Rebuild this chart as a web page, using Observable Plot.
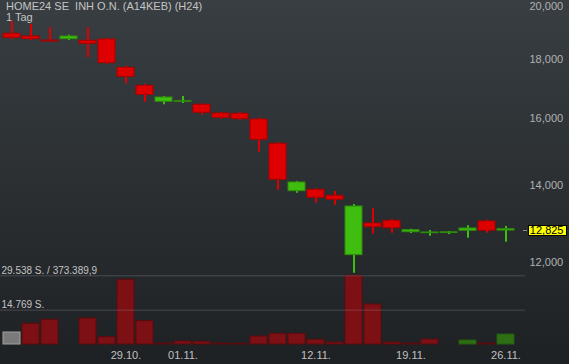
<!DOCTYPE html>
<html><head><meta charset="utf-8">
<script src="https://cdn.jsdelivr.net/npm/d3@7"></script>
<script src="https://cdn.jsdelivr.net/npm/@observablehq/plot@0.6"></script>
<style>
html,body{margin:0;padding:0;background:#1f2225;}
#chart{position:relative;width:569px;height:364px;overflow:hidden;background:linear-gradient(#383e42,#1e2124);font-family:"Liberation Sans",Arial,sans-serif;}
#chart svg{position:absolute;left:0;top:0;}
.t{position:absolute;left:6px;color:#c4c4c4;font-size:11px;line-height:11px;white-space:pre;font-family:"Liberation Sans",Arial,sans-serif;}
</style></head><body>
<div id="chart"></div>
<script>
const dates = ["19.10.","22.10.","23.10.","24.10.","25.10.","26.10.","29.10.","30.10.","31.10.","01.11.","02.11.","05.11.","06.11.","07.11.","08.11.","09.11.","12.11.","13.11.","14.11.","15.11.","16.11.","19.11.","20.11.","21.11.","22.11.","23.11.","26.11."];
const opens  = [18940,18838,18688,18737,18677,18726,17698,17073,16537,16537,16438,16155,16146,15963,15208,13835,13874,13709,12177,12972,13042,12748,12723,12728,12784,13024,12790];
const highs  = [19410,19295,19168,18887,19168,18763,17754,17128,16713,16713,16471,16188,16188,16004,15247,14106,13902,13827,13473,13358,13076,12825,12792,12766,12912,13057,12894];
const lows   = [18726,18688,18625,18688,18054,17825,17142,16524,16438,16481,16101,15973,15941,14955,13863,13780,13508,13454,11747,12698,12723,12715,12647,12690,12597,12723,12497];
const closes = [18789,18737,18651,18838,18566,17861,17383,16769,16679,16557,16178,16017,15973,15329,14154,14078,13654,13600,13419,12876,12851,12799,12741,12745,12843,12784,12825];
const volumes = [5160,8900,10620,0,11180,3140,27820,10020,430,1290,1160,430,300,3440,4600,4600,2020,860,29538,17200,860,430,2150,0,1720,430,4300];
const xTicks = ["29.10.","01.11.","12.11.","19.11.","26.11."];
const yTicks = [12000,14000,16000,18000,20000];
const volMax = 29538, volMid = 14769;
const volLabels = ["29.538 S. / 373.389,9","14.769 S."];
const lastPrice = 12825;
const titleLines = ["HOME24 SE  INH O.N. (A14KEB) (H24)","1 Tag"];

const RED="#de0000", RED_S="#a80000", GREEN="#3fbe10", GREEN_S="#2e8c0b";
const VRED="#7d1015", VRED_S="#5c0b0f", VGREEN="#2f6f14", VGREEN_S="#245a10", VGREY="#7a7a7a", VGREY_S="#a0a0a0";

const data = dates.map((d,i)=>({date:d, open:opens[i], high:highs[i], low:lows[i], close:closes[i], volume:volumes[i],
  up: closes[i]>=opens[i], dir: i===0 ? "flat" : (closes[i]>closes[i-1] ? "up" : "down")}));

const xScale = {type:"band", domain:dates, range:[-1.9,519.5], padding:0.1};
const font = "'Liberation Sans',Arial,sans-serif";
const fmt = d3.format(",");
const ns = "http://www.w3.org/2000/svg";

const price = Plot.plot({
  width:569, height:364, marginLeft:0, marginRight:42, marginTop:0, marginBottom:20,
  style:{background:"transparent", fontFamily:font, fontSize:"11px", color:"#b2b2b2", overflow:"visible"},
  x:{...xScale, axis:null},
  y:{type:"log", domain:[12000,20000], range:[262,6], axis:null},
  color:{type:"identity"},
  marks:[
    Plot.ruleX(data,{x:"date", y1:"low", y2:"high", stroke:d=>d.up?GREEN:RED, strokeWidth:2}),
    Plot.barY(data,{x:"date", y1:"open", y2:"close", fill:d=>d.up?GREEN:RED, stroke:d=>d.up?GREEN_S:RED_S, strokeWidth:1}),
    Plot.axisY(yTicks.filter(d=>true),{anchor:"right", tickSize:0, tickPadding:2, tickFormat:fmt, label:null, fontSize:11}),
    Plot.text([lastPrice],{y:d=>d, text:d=>fmt(d), frameAnchor:"right", textAnchor:"end", dx:36, dy:1.3, fill:"black", fontSize:11,
      render(index, scales, values, dims, ctx, next){
        const g = next(index, scales, values, dims, ctx);
        const wrap = document.createElementNS(ns,"g");
        const right = dims.width - dims.marginRight;
        for (const i of index){
          const y = values.y[i];
          const l = document.createElementNS(ns,"line");
          const ly = Math.round(y+1.3)+0.5;
          l.setAttribute("x1", right-4); l.setAttribute("x2", right); l.setAttribute("y1", ly); l.setAttribute("y2", ly);
          l.setAttribute("stroke","#8c8c8c");
          wrap.appendChild(l);
          const r = document.createElementNS(ns,"rect");
          r.setAttribute("x", right+1.5); r.setAttribute("y", Math.round(y-3.7)+0.5);
          r.setAttribute("width", 38); r.setAttribute("height", 10);
          r.setAttribute("fill","#ffff00"); r.setAttribute("stroke","#000");
          wrap.appendChild(r);
        }
        wrap.appendChild(g);
        return wrap;
      }})
  ]
});

const vol = Plot.plot({
  width:569, height:364, marginLeft:0, marginRight:44, marginTop:0, marginBottom:20,
  style:{background:"transparent", fontFamily:font, fontSize:"11px", color:"#c0c0c0", overflow:"visible"},
  x:{...xScale, axis:null},
  y:{domain:[0,volMax], range:[344,275.3], axis:null},
  color:{type:"identity"},
  marks:[
    Plot.barY(data.filter(d=>d.volume>0),{x:"date", y:"volume",
      fill:d=>d.dir==="flat"?VGREY:d.dir==="up"?VGREEN:VRED,
      stroke:d=>d.dir==="flat"?VGREY_S:d.dir==="up"?VGREEN_S:VRED_S, strokeWidth:1}),
    Plot.ruleY([volMax, volMid],{stroke:"#9aa0a4", strokeOpacity:0.3}),
    Plot.text([volMax, volMid],{y:d=>d, text:(d,i)=>volLabels[i], frameAnchor:"left", textAnchor:"start", dx:1, dy:-5.5, fill:"#c4c4c4", fontSize:10}),
    Plot.axisX(xTicks,{anchor:"bottom", tickSize:0, tickPadding:7, label:null, fontSize:11})
  ]
});

const chart = document.getElementById("chart");
chart.appendChild(vol);
chart.appendChild(price);
titleLines.forEach((t,i)=>{
  const div = document.createElement("div");
  div.className="t"; div.style.top = (0.5 + i*11)+"px"; div.textContent = t;
  chart.appendChild(div);
});
</script>
</body></html>
